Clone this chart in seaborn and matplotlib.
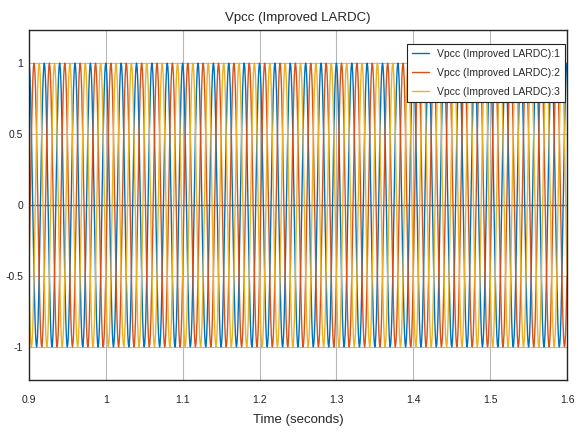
import numpy as np
import pandas as pd
import matplotlib
matplotlib.use("Agg")
import matplotlib.pyplot as plt
import seaborn as sns

# ---- data ----
series_names = ["Vpcc (Improved LARDC):1", "Vpcc (Improved LARDC):2", "Vpcc (Improved LARDC):3"]
series_colors = ["#0072BD", "#D95319", "#EDB120"]
t_start, t_end = 0.9, 1.6
cycles = 35                      # 50 Hz over 0.7 s
# one cycle of the per-unit waveform (30 samples, peak +1 / trough -1)
one_cycle = [1.000, 0.978, 0.914, 0.809, 0.669, 0.500, 0.309, 0.105, -0.105, -0.309,
             -0.500, -0.669, -0.809, -0.914, -0.978, -1.000, -0.978, -0.914, -0.809, -0.669,
             -0.500, -0.309, -0.105, 0.105, 0.309, 0.500, 0.669, 0.809, 0.914, 0.978]
phase_shift_samples = [0, 10, 20]   # 0, -120, -240 degrees
x_ticks = [0.9, 1.0, 1.1, 1.2, 1.3, 1.4, 1.5, 1.6]
x_tick_labels = ["0.9", "1", "1.1", "1.2", "1.3", "1.4", "1.5", "1.6"]
y_ticks = [-1, -0.5, 0, 0.5, 1]
y_tick_labels = ["-1", "-0.5", "0", "0.5", "1"]

# ---- build long-format table ----
wave = np.tile(np.array(one_cycle), cycles)
wave = np.append(wave, one_cycle[0])
t = np.linspace(t_start, t_end, len(wave))
frames = []
for name, shift in zip(series_names, phase_shift_samples):
    vals = np.roll(wave[:-1], shift)
    vals = np.append(vals, vals[0])
    frames.append(pd.DataFrame({"time": t, "value": vals, "series": name}))
df = pd.concat(frames, ignore_index=True)

sns.set_style("whitegrid")
plt.rcParams["font.family"] = ["Liberation Sans Narrow", "Liberation Sans", "DejaVu Sans"]

fig = plt.figure(figsize=(5.78, 4.32), dpi=100)
ax = fig.add_axes([0.050, 0.120, 0.931, 0.811])

sns.lineplot(data=df, x="time", y="value", hue="series", palette=series_colors,
             linewidth=1.0, ax=ax, sort=False, estimator=None)

ax.set_xlim(t_start, t_end)
ax.set_ylim(-1.235, 1.235)
ax.set_xticks(x_ticks)
ax.set_xticklabels(x_tick_labels)
ax.set_yticks(y_ticks)
ax.set_yticklabels(y_tick_labels)
ax.tick_params(direction="in", length=3, labelsize=7.5, colors="#222222")
ax.tick_params(axis="y", pad=4)
ax.tick_params(axis="x", pad=11)
ax.grid(True, color="#b8b8b8", linewidth=0.8)
ax.axhline(0, color="#606060", linewidth=1.0, zorder=1)
for s in ax.spines.values():
    s.set_color("#262626")
    s.set_linewidth(1.0)

ax.set_title("Vpcc (Improved LARDC)", fontsize=9.5, pad=6)
ax.set_xlabel("Time (seconds)", fontsize=9.5, labelpad=6)
ax.set_ylabel("")

leg = ax.legend(loc="upper right", fontsize=7.5, frameon=True, fancybox=False,
                borderaxespad=0.15, bbox_to_anchor=(1.0, 0.965), handlelength=1.6,
                labelspacing=0.85, borderpad=0.5, markerfirst=True)
leg.get_frame().set_edgecolor("#222222")
leg.get_frame().set_linewidth(0.8)
leg.get_frame().set_alpha(1.0)

fig.savefig("out.png", dpi=100)
